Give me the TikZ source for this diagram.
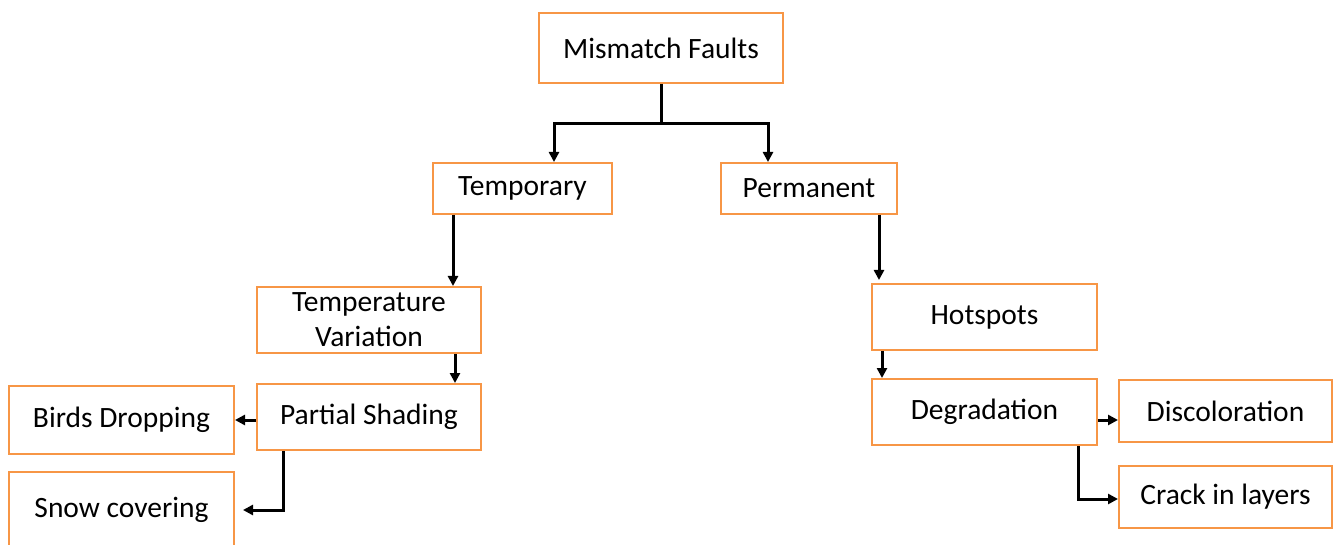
\documentclass[tikz,border=0pt]{standalone}
\usepackage{fontspec}
\setmainfont{Carlito}
\usetikzlibrary{arrows.meta}
\definecolor{boxorange}{RGB}{247,150,70}
\begin{document}
\begin{tikzpicture}[x=0.5pt,y=-0.5pt,
  box/.style={draw=boxorange,line width=1pt,fill=white,inner sep=0pt,align=center,
    font=\fontsize{14.75}{17.5}\selectfont},
  conn/.style={draw=black,line width=1.5pt,-{Triangle[length=5pt,width=5pt]}},
  plain/.style={draw=black,line width=1.5pt}]
\useasboundingbox[fill=white] (0,0) rectangle (1333,545);
\node[box,minimum width=122pt,minimum height=35pt] (mf) at (661,48) {Mismatch Faults};
\node[box,minimum width=89.5pt,minimum height=25.5pt] (temp) at (522.5,188.5) {Temporary};
\node[box,minimum width=88pt,minimum height=25.5pt] (perm) at (809,188.5) {Permanent};
\node[box,minimum width=112pt,minimum height=33pt] (tv) at (369,320) {Temperature\\Variation};
\node[box,minimum width=112pt,minimum height=33pt] (ps) at (369,417) {Partial Shading};
\node[box,minimum width=112.5pt,minimum height=34pt] (bd) at (121.5,420) {Birds Dropping};
\node[box,minimum width=112.5pt,minimum height=38pt] (sc) at (121.5,510) {Snow covering};
\node[box,minimum width=112.5pt,minimum height=33pt] (hs) at (984.5,317) {Hotspots};
\node[box,minimum width=112.5pt,minimum height=33pt] (deg) at (984.5,412) {Degradation};
\node[box,minimum width=106.5pt,minimum height=31pt] (dis) at (1225.5,411) {Discoloration};
\node[box,minimum width=106.5pt,minimum height=31pt] (crack) at (1225.5,497) {Crack in layers};
% top split
\coordinate (j) at ([yshift=-20pt]mf.south);
\draw[plain] (mf.south) -- (j);
\draw[conn] (j) -| ([xshift=15.75pt]temp.north);
\draw[conn] (j) -| ([xshift=-20.5pt]perm.north);
% left branch
\draw[conn] ([xshift=-34.75pt]temp.south) -- ([xshift=-34.75pt]temp.south |- tv.north);
\draw[conn] ([xshift=43pt]tv.south) -- ([xshift=43pt]tv.south |- ps.north);
\draw[conn] ([yshift=-1.5pt]ps.west) -- ([yshift=-1.5pt]ps.west -| bd.east);
\draw[conn,shorten >=4pt] ([xshift=-43pt]ps.south) |- (sc.east);
% right branch
\draw[conn,shorten >=1.5pt] ([xshift=35pt]perm.south) -- ([xshift=35pt]perm.south |- hs.north);
\draw[conn] ([xshift=-51.25pt]hs.south) -- ([xshift=-51.25pt]hs.south |- deg.north);
\draw[conn] ([yshift=-4pt]deg.east) -- ([yshift=-4pt]deg.east -| dis.west);
\draw[conn] ([xshift=46.75pt]deg.south) |- ([yshift=-1pt]crack.west);
\end{tikzpicture}
\end{document}
